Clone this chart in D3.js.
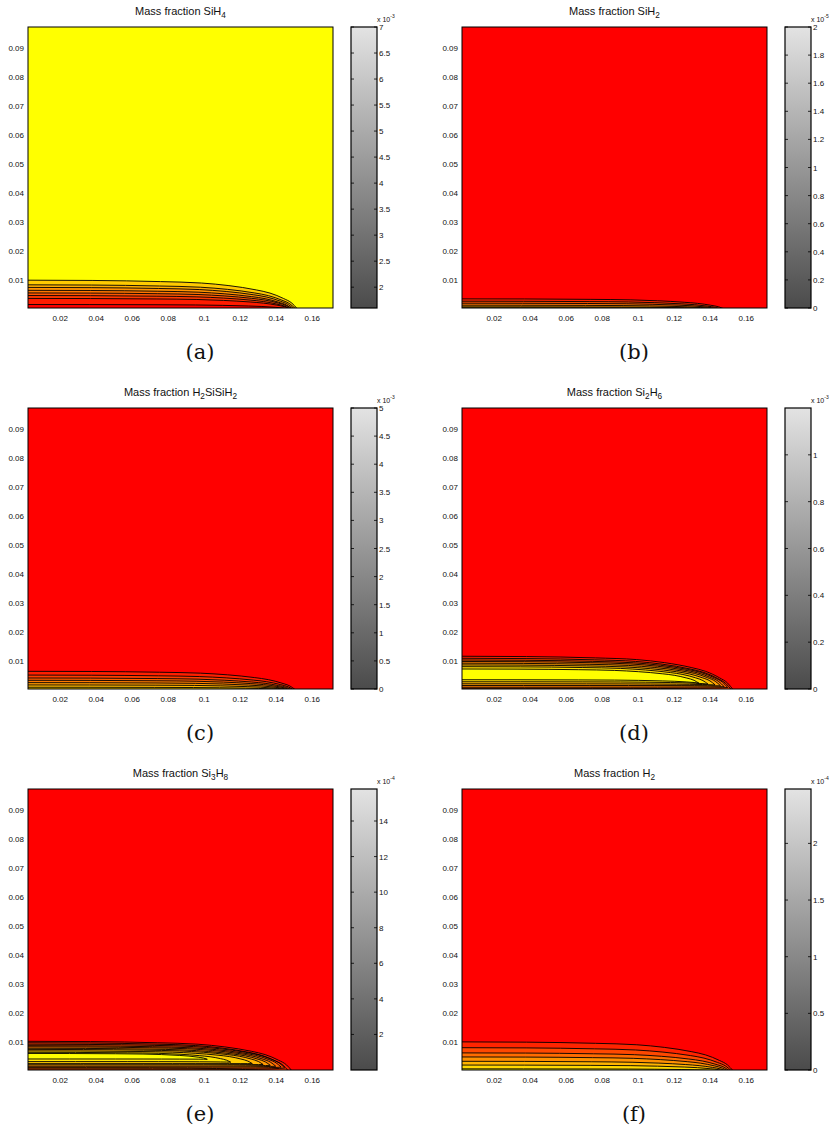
<!DOCTYPE html>
<html>
<head>
<meta charset="utf-8">
<script src="https://cdn.jsdelivr.net/npm/d3@7"></script>
<style>
body { margin: 0; background: #fff; }
text { fill: #111; }
</style>
</head>
<body>
<script>
// ---- data ----
var titles = ["Mass fraction SiH_4", "Mass fraction SiH_2", "Mass fraction H_2SiSiH_2",
  "Mass fraction Si_2H_6", "Mass fraction Si_3H_8", "Mass fraction H_2"];
var panelLabels = ["(a)", "(b)", "(c)", "(d)", "(e)", "(f)"];

var xDomain = [0.0024, 0.1718];
var yDomain = [0.0003, 0.0972];
var xTicks = [0.02, 0.04, 0.06, 0.08, 0.1, 0.12, 0.14, 0.16];
var yTicks = [0.01, 0.02, 0.03, 0.04, 0.05, 0.06, 0.07, 0.08, 0.09];

// colorbar ranges (in units of 10^exp)
var cbarMin = [1.6, 0, 0, 0, 0, 0];
var cbarMax = [7, 2, 5, 1.2, 15.8, 2.48];
var cbarExp = [-3, -5, -3, -3, -4, -4];
var cbarTicks = [
  [2, 2.5, 3, 3.5, 4, 4.5, 5, 5.5, 6, 6.5, 7],
  [0, 0.2, 0.4, 0.6, 0.8, 1, 1.2, 1.4, 1.6, 1.8, 2],
  [0, 0.5, 1, 1.5, 2, 2.5, 3, 3.5, 4, 4.5, 5],
  [0, 0.2, 0.4, 0.6, 0.8, 1],
  [2, 4, 6, 8, 10, 12, 14],
  [0, 0.5, 1, 1.5, 2]
];

// value of the far field (fills the whole plot behind the contours)
var backgroundValue = [7, 0, 0, 0, 0, 0];

// contours, outermost first: height at inlet (top edge), height of lower edge
// (0 = touches wall), tip height, x where the contour closes, value inside
var contourTop = [
  [0.0099, 0.0083, 0.0074, 0.0064, 0.0055, 0.0046, 0.0036, 0.0015],
  [0.00345, 0.00264, 0.00195, 0.00126, 0.00069, 0.00035],
  [0.0064, 0.0051, 0.0041, 0.0033, 0.0025, 0.0017, 0.0009, 0.0002],
  [0.0116, 0.0109, 0.0103, 0.0098, 0.0092, 0.0086, 0.0080, 0.0072],
  [0.0102, 0.0097, 0.0092, 0.0087, 0.0083, 0.0078, 0.0074, 0.0069, 0.0064, 0.0060],
  [0.0100, 0.0080, 0.0062, 0.0048, 0.0033, 0.0020, 0.0007]
];
var contourBottom = [
  [0, 0, 0, 0, 0, 0, 0, 0],
  [0, 0, 0, 0, 0, 0],
  [0, 0, 0, 0, 0, 0, 0, 0],
  [0, 0, 0.0004, 0.0009, 0.0015, 0.0021, 0.0028, 0.0035],
  [0, 0, 0.0002, 0.0007, 0.0012, 0.0016, 0.0021, 0.0025, 0.0032, 0.0041],
  [0, 0, 0, 0, 0, 0, 0]
];
var contourTip = [
  [0, 0, 0, 0, 0, 0, 0, 0],
  [0, 0, 0, 0, 0, 0],
  [0, 0, 0, 0, 0, 0, 0, 0],
  [0, 0, 0.0008, 0.0011, 0.0014, 0.0017, 0.0020, 0.0023],
  [0, 0, 0.0010, 0.0013, 0.0016, 0.0019, 0.0022, 0.0025, 0.0030, 0.0040],
  [0, 0, 0, 0, 0, 0, 0]
];
var contourEnd = [
  [0.152, 0.151, 0.150, 0.149, 0.149, 0.148, 0.148, 0.147],
  [0.148, 0.146, 0.144, 0.142, 0.140, 0.138],
  [0.151, 0.150, 0.149, 0.148, 0.147, 0.146, 0.145, 0.143],
  [0.153, 0.152, 0.150, 0.148, 0.146, 0.143, 0.139, 0.134],
  [0.149, 0.147, 0.145, 0.143, 0.140, 0.137, 0.133, 0.127, 0.115, 0.102],
  [0.153, 0.152, 0.151, 0.150, 0.149, 0.148, 0.146]
];
var contourValue = [
  [5.9, 5.3, 4.7, 4.1, 3.4, 2.8, 2.2, 1.6],
  [0.3, 0.6, 0.9, 1.2, 1.5, 1.8],
  [0.6, 1.2, 1.8, 2.4, 3.0, 3.6, 4.2, 4.8],
  [0.15, 0.3, 0.45, 0.6, 0.75, 0.9, 1.05, 1.2],
  [1.6, 3.2, 4.7, 6.3, 7.9, 9.5, 11.0, 12.6, 14.2, 15.8],
  [0.35, 0.7, 1.05, 1.4, 1.75, 2.1, 2.45]
];

// shape of a contour along its length (fraction of closing x -> fraction of height)
var profileT = [0, 0.25, 0.5, 0.65, 0.75, 0.85, 0.9, 0.95, 0.98, 1];
var profileF = [1, 0.99, 0.95, 0.9, 0.81, 0.66, 0.55, 0.36, 0.2, 0];

// ---- layout ----
var svgWidth = 834, svgHeight = 1134;
var colLeft = [28, 462];
var rowTop = [27, 408, 789];
var plotW = 305, plotH = 281;
var cbarOffset = 323, cbarW = 26;
var sans = "'Liberation Sans', Arial, Helvetica, sans-serif";

var svg = d3.select("body").append("svg")
  .attr("width", svgWidth)
  .attr("height", svgHeight);

var defs = svg.append("defs");
var grad = defs.append("linearGradient")
  .attr("id", "grayGrad")
  .attr("x1", 0).attr("y1", 1).attr("x2", 0).attr("y2", 0);
grad.append("stop").attr("offset", 0).attr("stop-color", "#4b4b4b");
grad.append("stop").attr("offset", 1).attr("stop-color", "#e3e3e3");

function addSubscripts(sel, str, size) {
  var parts = str.split(/(_\d)/);
  var shifted = false;
  parts.forEach(function(p) {
    if (!p) return;
    if (p[0] === "_") {
      sel.append("tspan").attr("dy", 3).style("font-size", (size * 0.75) + "px").text(p.slice(1));
      shifted = true;
    } else {
      sel.append("tspan").attr("dy", shifted ? -3 : 0).text(p);
      shifted = false;
    }
  });
}

titles.forEach(function(title, i) {
  var col = i % 2, row = Math.floor(i / 2);
  var left = colLeft[col], top = rowTop[row];

  var x = d3.scaleLinear().domain(xDomain).range([left, left + plotW]);
  var y = d3.scaleLinear().domain(yDomain).range([top + plotH, top]);
  var color = d3.scaleLinear()
    .domain([cbarMin[i], cbarMax[i]])
    .range(["#ff0000", "#ffff00"])
    .clamp(true);

  var g = svg.append("g");

  defs.append("clipPath").attr("id", "clip" + i)
    .append("rect")
    .attr("x", left).attr("y", top)
    .attr("width", plotW).attr("height", plotH);

  var plot = g.append("g").attr("clip-path", "url(#clip" + i + ")");

  plot.append("rect")
    .attr("x", left).attr("y", top)
    .attr("width", plotW).attr("height", plotH)
    .attr("fill", color(backgroundValue[i]));

  // build contour shapes
  var shapes = contourTop[i].map(function(h, k) {
    var tip = contourTip[i][k], bot = contourBottom[i][k], end = contourEnd[i][k];
    return profileT.map(function(t, j) {
      var f = profileF[j];
      return { x: end * t, top: tip + (h - tip) * f, bot: tip - (tip - bot) * f };
    });
  });

  var area = d3.area()
    .x(function(d) { return x(d.x); })
    .y0(function(d) { return y(d.bot); })
    .y1(function(d) { return y(d.top); })
    .curve(d3.curveMonotoneX);
  var topLine = d3.line()
    .x(function(d) { return x(d.x); })
    .y(function(d) { return y(d.top); })
    .curve(d3.curveMonotoneX);
  var botLine = d3.line()
    .x(function(d) { return x(d.x); })
    .y(function(d) { return y(d.bot); })
    .curve(d3.curveMonotoneX);

  shapes.forEach(function(s, k) {
    plot.append("path")
      .attr("d", area(s))
      .attr("fill", color(contourValue[i][k]));
  });
  shapes.forEach(function(s, k) {
    plot.append("path").attr("d", topLine(s))
      .attr("fill", "none").attr("stroke", "#000").attr("stroke-width", 0.9);
    if (contourBottom[i][k] > 0) {
      plot.append("path").attr("d", botLine(s))
        .attr("fill", "none").attr("stroke", "#000").attr("stroke-width", 0.9);
    }
  });

  // axes
  var xAxis = g.append("g")
    .attr("transform", "translate(0," + (top + plotH) + ")")
    .call(d3.axisBottom(x).tickValues(xTicks).tickSize(0).tickPadding(7).tickFormat(d3.format("~g")));
  var yAxis = g.append("g")
    .attr("transform", "translate(" + left + ",0)")
    .call(d3.axisLeft(y).tickValues(yTicks).tickSize(0).tickPadding(4).tickFormat(d3.format("~g")));
  [xAxis, yAxis].forEach(function(a) {
    a.select(".domain").remove();
    a.selectAll("text").style("font-size", "8px").style("font-family", sans);
  });

  g.append("rect")
    .attr("x", left).attr("y", top)
    .attr("width", plotW).attr("height", plotH)
    .attr("fill", "none").attr("stroke", "#000").attr("stroke-width", 1);

  // title
  var t = g.append("text")
    .attr("x", left + plotW / 2)
    .attr("y", top - 12)
    .attr("text-anchor", "middle")
    .style("font-family", sans)
    .style("font-size", "11px");
  addSubscripts(t, title, 11);

  // colorbar
  var cx = left + cbarOffset;
  var cy = d3.scaleLinear().domain([cbarMin[i], cbarMax[i]]).range([top + plotH, top]);
  g.append("rect")
    .attr("x", cx).attr("y", top)
    .attr("width", cbarW).attr("height", plotH)
    .attr("fill", "url(#grayGrad)")
    .attr("stroke", "#000").attr("stroke-width", 1.2);
  var cAxis = g.append("g")
    .attr("transform", "translate(" + (cx + cbarW) + ",0)")
    .call(d3.axisRight(cy).tickValues(cbarTicks[i]).tickSize(0).tickPadding(2).tickFormat(d3.format("~g")));
  cAxis.select(".domain").remove();
  cAxis.selectAll("text").style("font-size", "8px").style("font-family", sans);
  cbarTicks[i].forEach(function(v) {
    g.append("line").attr("x1", cx).attr("x2", cx + 3)
      .attr("y1", cy(v)).attr("y2", cy(v)).attr("stroke", "#000").attr("stroke-width", 0.8);
    g.append("line").attr("x1", cx + cbarW - 3).attr("x2", cx + cbarW)
      .attr("y1", cy(v)).attr("y2", cy(v)).attr("stroke", "#000").attr("stroke-width", 0.8);
  });
  var ex = g.append("text")
    .attr("x", cx + cbarW)
    .attr("y", top - 5)
    .style("font-family", sans)
    .style("font-size", "7px");
  ex.append("tspan").text("x 10");
  ex.append("tspan").attr("dy", -4).style("font-size", "5px").text(String(cbarExp[i]));

  // panel label
  g.append("text")
    .attr("x", left + 172)
    .attr("y", top + plotH + 51)
    .attr("text-anchor", "middle")
    .style("font-family", "'DejaVu Serif', 'Liberation Serif', serif")
    .style("font-size", "21px")
    .text(panelLabels[i]);
});
</script>
</body>
</html>
